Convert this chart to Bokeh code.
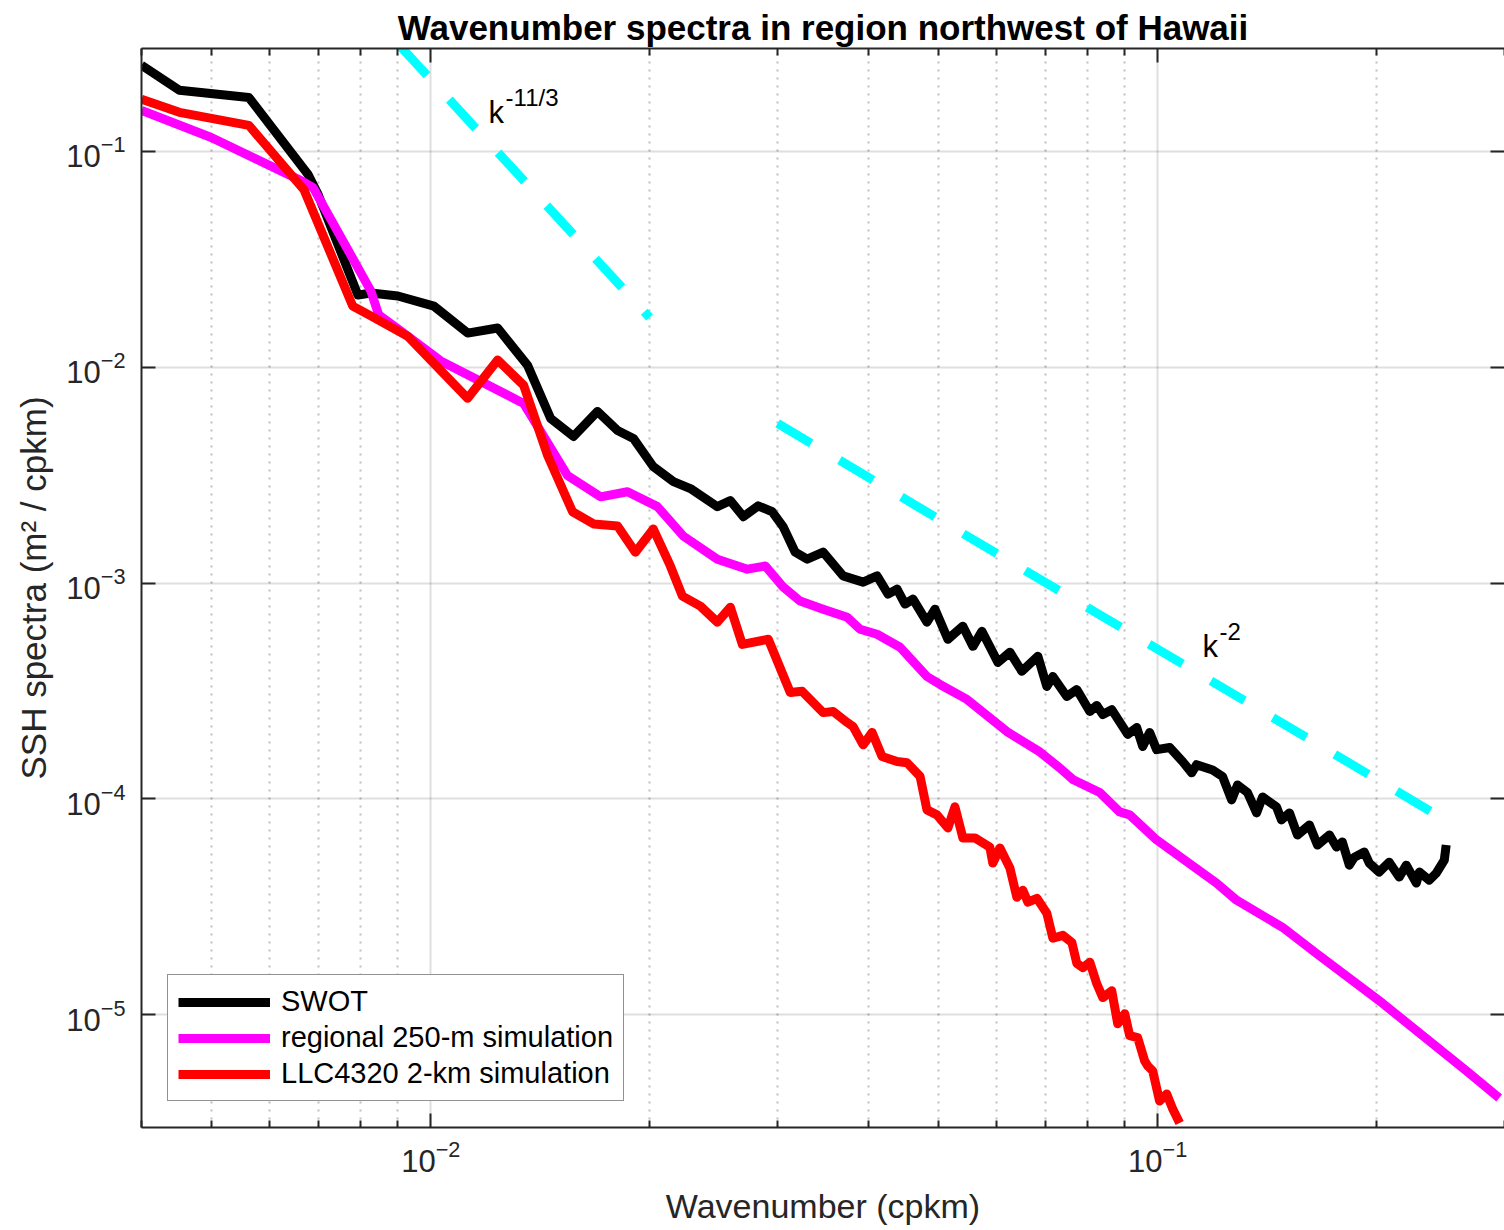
from bokeh.plotting import figure
from bokeh.models import (Range1d, FixedTicker, LogAxis, LogTickFormatter, LogTicker,
                          CustomJSTickFormatter, Legend, LegendItem, ColumnDataSource)
from bokeh.core.properties import value
from bokeh.embed import file_html
from bokeh.resources import INLINE

# ---------------- data ----------------
swot_k = [0.00400, 0.00451, 0.00562, 0.00678, 0.00700, 0.00794, 0.00827, 0.00901, 0.01010, 0.01124,
          0.01236, 0.01359, 0.01462, 0.01572, 0.01696, 0.01807, 0.01900, 0.02024, 0.02157, 0.02276,
          0.02479, 0.02583, 0.02692, 0.02821, 0.02950, 0.03054, 0.03172, 0.03295, 0.03466, 0.03692,
          0.03934, 0.04111, 0.04257, 0.04380, 0.04492, 0.04607, 0.04815, 0.04939, 0.05145, 0.05395,
          0.05571, 0.05731, 0.06029, 0.06262, 0.06504, 0.06842, 0.07039, 0.07175, 0.07499, 0.07740,
          0.08066, 0.08246, 0.08405, 0.08646, 0.09095, 0.09358, 0.09537, 0.09750, 0.09968, 0.1039,
          0.1082, 0.1114, 0.1131, 0.1190, 0.1228, 0.1264, 0.1288, 0.1329, 0.1368, 0.1394,
          0.1457, 0.1480, 0.1518, 0.1557, 0.1617, 0.1659, 0.1723, 0.1762, 0.1795, 0.1835,
          0.1865, 0.1924, 0.1955, 0.2017, 0.2082, 0.2149, 0.2198, 0.2269, 0.2291, 0.2364,
          0.2417, 0.2479, 0.2494]
swot_s = [0.251, 0.192, 0.178, 0.0782, 0.0631, 0.0216, 0.0221, 0.0214, 0.0192, 0.0144,
          0.0152, 0.0102, 5.79e-3, 4.78e-3, 6.24e-3, 5.09e-3, 4.68e-3, 3.46e-3, 2.95e-3, 2.74e-3,
          2.26e-3, 2.41e-3, 2.03e-3, 2.28e-3, 2.14e-3, 1.82e-3, 1.39e-3, 1.29e-3, 1.39e-3, 1.08e-3,
          1.01e-3, 1.08e-3, 8.89e-4, 9.38e-4, 7.99e-4, 8.43e-4, 6.59e-4, 7.57e-4, 5.49e-4, 6.31e-4,
          5.09e-4, 5.98e-4, 4.29e-4, 4.78e-4, 3.90e-4, 4.58e-4, 3.32e-4, 3.69e-4, 2.98e-4, 3.21e-4,
          2.54e-4, 2.71e-4, 2.46e-4, 2.59e-4, 1.99e-4, 2.14e-4, 1.75e-4, 2.03e-4, 1.69e-4, 1.73e-4,
          1.49e-4, 1.32e-4, 1.44e-4, 1.36e-4, 1.27e-4, 9.89e-5, 1.16e-4, 1.07e-4, 8.61e-5, 1.02e-4,
          9.18e-5, 7.99e-5, 8.61e-5, 6.80e-5, 7.57e-5, 6.11e-5, 6.80e-5, 5.98e-5, 6.31e-5, 4.93e-5,
          5.37e-5, 5.67e-5, 5.04e-5, 4.58e-5, 5.09e-5, 4.34e-5, 4.93e-5, 4.07e-5, 4.58e-5, 4.20e-5,
          4.53e-5, 5.20e-5, 6.11e-5]

regional_k = [0.00400, 0.00499, 0.00663, 0.00689, 0.00827, 0.00848, 0.00910, 0.01032, 0.01342, 0.01542,
              0.01712, 0.01865, 0.02050, 0.02226, 0.02479, 0.02726, 0.02885, 0.03054, 0.03222, 0.03466,
              0.03740, 0.03896, 0.04111, 0.04422, 0.04815, 0.05018, 0.05466, 0.06203, 0.06885, 0.07335,
              0.07642, 0.08324, 0.08867, 0.09152, 0.09968, 0.1205, 0.1284, 0.1485, 0.1654, 0.2038,
              0.2658, 0.2950]
regional_s = [0.155, 0.116, 0.0733, 0.0680, 0.0226, 0.0175, 0.0147, 0.0107, 6.80e-3, 3.15e-3,
              2.51e-3, 2.65e-3, 2.26e-3, 1.65e-3, 1.29e-3, 1.16e-3, 1.20e-3, 9.58e-4, 8.25e-4, 7.57e-4,
              6.95e-4, 6.11e-4, 5.79e-4, 5.04e-4, 3.69e-4, 3.39e-4, 2.89e-4, 2.05e-4, 1.65e-4, 1.39e-4,
              1.23e-4, 1.07e-4, 8.70e-5, 8.43e-5, 6.45e-5, 4.07e-5, 3.39e-5, 2.54e-5, 1.92e-5, 1.13e-5,
              5.49e-6, 4.11e-6]

llc_k = [0.00400, 0.00451, 0.00562, 0.00669, 0.00781, 0.00827, 0.00930, 0.01124, 0.01236, 0.01342,
         0.01448, 0.01567, 0.01675, 0.01807, 0.01912, 0.02024, 0.02136, 0.02219, 0.02349, 0.02479,
         0.02583, 0.02683, 0.02913, 0.03123, 0.03243, 0.03466, 0.03578, 0.03740, 0.03811, 0.03934,
         0.04047, 0.04177, 0.04380, 0.04521, 0.04711, 0.04815, 0.04970, 0.05145, 0.05261, 0.05395,
         0.05604, 0.05876, 0.05932, 0.06067, 0.06262, 0.06401, 0.06524, 0.06630, 0.06821, 0.07039,
         0.07175, 0.07405, 0.07620, 0.07740, 0.07889, 0.08066, 0.08246, 0.08405, 0.08646, 0.08811,
         0.09010, 0.09152, 0.09387, 0.09596, 0.09689, 0.09843, 0.1006, 0.1029, 0.1049, 0.1072]
llc_s = [0.1745, 0.1518, 0.1321, 0.0666, 0.0192, 0.0173, 0.0139, 7.18e-3, 0.0108, 8.25e-3,
         3.90e-3, 2.14e-3, 1.88e-3, 1.84e-3, 1.39e-3, 1.78e-3, 1.20e-3, 8.70e-4, 7.82e-4, 6.59e-4,
         7.73e-4, 5.20e-4, 5.49e-4, 3.11e-4, 3.15e-4, 2.51e-4, 2.54e-4, 2.26e-4, 2.16e-4, 1.78e-4,
         2.03e-4, 1.57e-4, 1.49e-4, 1.47e-4, 1.27e-4, 8.89e-5, 8.43e-5, 7.33e-5, 9.18e-5, 6.59e-5,
         6.59e-5, 5.98e-5, 5.04e-5, 5.92e-5, 4.78e-5, 3.50e-5, 3.77e-5, 3.32e-5, 3.46e-5, 2.95e-5,
         2.26e-5, 2.33e-5, 2.16e-5, 1.73e-5, 1.65e-5, 1.75e-5, 1.39e-5, 1.20e-5, 1.29e-5, 9.08e-6,
         1.01e-5, 7.99e-6, 7.82e-6, 6.11e-6, 5.79e-6, 5.49e-6, 3.98e-6, 4.29e-6, 3.65e-6, 3.15e-6]

# reference slopes (end points)
ref113_k = [0.00779, 0.0200]
ref113_s = [0.539, 0.0170]
ref2_k = [0.0300, 0.2500]
ref2_s = [5.49e-3, 7.90e-5]

annot_k = [0.01201, 0.1153]
annot_s = [0.1518, 5.09e-4]
annot_base = ["k", "k"]
annot_exp = ["-11/3", "-2"]

series_labels = ["SWOT", "regional 250-m simulation", "LLC4320 2-km simulation"]

x_major = [0.01, 0.1]
x_minor = [0.004, 0.005, 0.006, 0.007, 0.008, 0.009,
           0.02, 0.03, 0.04, 0.05, 0.06, 0.07, 0.08, 0.09, 0.2, 0.3]
y_major = [1e-5, 1e-4, 1e-3, 1e-2, 1e-1]

FONT = "Liberation Sans"
AX = "#262626"

p = figure(width=1504, height=1230, x_axis_type="log", y_axis_type="log",
           x_range=Range1d(0.004, 0.3), y_range=Range1d(3e-6, 0.3),
           output_backend="svg", toolbar_location=None,
           min_border_left=141, min_border_right=0, min_border_top=48, min_border_bottom=103,
           x_axis_label="Wavenumber (cpkm)", y_axis_label="SSH spectra (m² / cpkm)")
p.outline_line_color = None
p.background_fill_color = "white"
p.border_fill_color = "white"

xt = FixedTicker(ticks=x_major, minor_ticks=x_minor)
yt = FixedTicker(ticks=y_major, minor_ticks=[])


def style_axis(ax, ticker, show_labels=True, show_line=True):
    ax.ticker = ticker
    ax.axis_line_color = AX if show_line else None
    ax.axis_line_width = 2
    ax.major_tick_line_color = AX
    ax.major_tick_line_width = 2
    ax.minor_tick_line_color = AX
    ax.minor_tick_line_width = 2
    ax.major_tick_in = 14
    ax.major_tick_out = 0
    ax.minor_tick_in = 7
    ax.minor_tick_out = 0
    ax.major_label_text_font = FONT
    ax.major_label_text_color = AX
    if show_labels:
        ax.formatter = LogTickFormatter(ticker=LogTicker())
        ax.major_label_text_font_size = "31px"
    else:
        ax.formatter = CustomJSTickFormatter(code="return ''")
        ax.major_label_text_font_size = "1px"
        ax.major_label_standoff = 0
    ax.axis_label_text_font = FONT
    ax.axis_label_text_font_style = "normal"
    ax.axis_label_text_font_size = "34px"
    ax.axis_label_text_color = AX


style_axis(p.xaxis[0], xt)
style_axis(p.yaxis[0], yt)
p.xaxis[0].major_label_standoff = 12
p.xaxis[0].axis_label_standoff = 12
p.yaxis[0].major_label_standoff = 16
p.yaxis[0].axis_label_standoff = 10
p.yaxis[0].axis_label_text_font_size = "35px"

top_ax = LogAxis()
style_axis(top_ax, xt, show_labels=False)
p.add_layout(top_ax, "above")
right_ax = LogAxis()
style_axis(right_ax, yt, show_labels=False, show_line=False)
p.add_layout(right_ax, "right")

# grid
p.xgrid.grid_line_color = AX
p.xgrid.grid_line_alpha = 0.15
p.xgrid.grid_line_width = 2
p.xgrid.minor_grid_line_color = AX
p.xgrid.minor_grid_line_alpha = 0.3
p.xgrid.minor_grid_line_width = 2
p.xgrid.minor_grid_line_dash = "2 6"
p.ygrid.grid_line_color = AX
p.ygrid.grid_line_alpha = 0.15
p.ygrid.grid_line_width = 2

# title
p.title.text = "Wavenumber spectra in region northwest of Hawaii"
p.title.align = "center"
p.title.text_font = FONT
p.title.text_font_style = "bold"
p.title.text_font_size = "35px"
p.title.text_color = "black"
p.title.standoff = 4

LW = 9
r_swot = p.line(swot_k, swot_s, line_color="black", line_width=LW, line_join="round")
r_reg = p.line(regional_k, regional_s, line_color="#FF00FF", line_width=LW, line_join="round")
r_llc = p.line(llc_k, llc_s, line_color="#FF0000", line_width=LW, line_join="round")

p.line(ref113_k, ref113_s, line_color="#00FFFF", line_width=LW, line_dash="39 33", line_cap="butt")
p.line(ref2_k, ref2_s, line_color="#00FFFF", line_width=LW, line_dash="39 33", line_cap="butt")

ann = ColumnDataSource(dict(x=annot_k, y=annot_s, base=annot_base, expo=annot_exp))
p.text(x="x", y="y", text="base", source=ann, text_font=value(FONT), text_font_size="31px",
       text_baseline="alphabetic", text_align="left", text_color="black")
p.text(x="x", y="y", text="expo", source=ann, text_font=value(FONT), text_font_size="24px",
       text_baseline="alphabetic", text_align="left", text_color="black",
       x_offset=17, y_offset=-15)

legend = Legend(items=[LegendItem(label=series_labels[0], renderers=[r_swot]),
                       LegendItem(label=series_labels[1], renderers=[r_reg]),
                       LegendItem(label=series_labels[2], renderers=[r_llc])],
                location=(26, 26))
legend.label_text_font = FONT
legend.label_text_font_size = "29px"
legend.label_text_color = "black"
legend.label_text_baseline = "middle"
legend.glyph_width = 92
legend.glyph_height = 32
legend.label_height = 32
legend.label_standoff = 11
legend.spacing = 3
legend.padding = 10
legend.margin = 0
legend.border_line_color = AX
legend.border_line_width = 1.5
legend.background_fill_color = "white"
legend.background_fill_alpha = 1.0
p.add_layout(legend)

open("out.html", "w").write(file_html(p, INLINE))
